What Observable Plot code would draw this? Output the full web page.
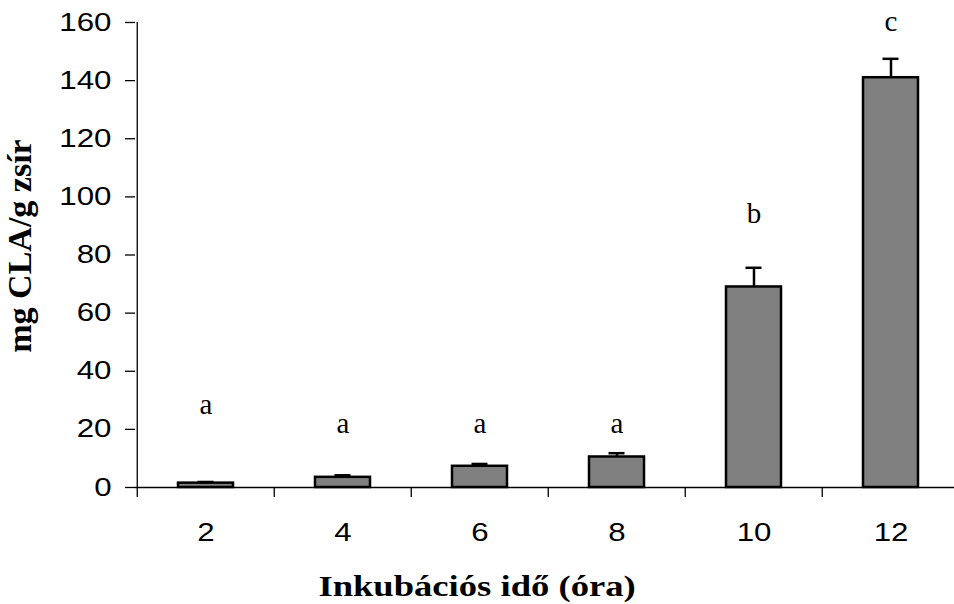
<!DOCTYPE html>
<html><head><meta charset="utf-8">
<script src="https://cdn.jsdelivr.net/npm/d3@7"></script>
<script src="https://cdn.jsdelivr.net/npm/@observablehq/plot@0.6"></script>
<style>
body{margin:0;background:#fff;}
#chart{width:954px;height:604px;position:relative;overflow:hidden;background:#fff;}
#xtitle{position:absolute;left:0;top:564px;width:954px;text-align:center;font-family:"Liberation Serif";font-weight:bold;font-size:30px;line-height:44px;color:#000;}
#xtitle span{display:inline-block;transform:scaleX(1.22);}
</style></head><body>
<div id="chart"><div id="xtitle"><span>Inkubációs idő (óra)</span></div></div>
<script>
const hours = ["2", "4", "6", "8", "10", "12"];
const means = [1.5, 3.5, 7.3, 10.5, 69.0, 141.0];
const errors = [0.4, 0.7, 0.8, 1.3, 6.6, 6.5];
const letters = ["a", "a", "a", "a", "b", "c"];
const letterY = [25.2, 18.8, 18.8, 18.8, 91.0, 157.0];
const yTicks = [0, 20, 40, 60, 80, 100, 120, 140, 160];
const yTitle = "mg CLA/g zsír";

const data = hours.map((h, i) => ({h, v: means[i], e: errors[i], lab: letters[i], ly: letterY[i]}));

const plot = Plot.plot({
  width: 954, height: 560,
  marginTop: 22, marginBottom: 73, marginLeft: 135, marginRight: 0,
  style: {fontFamily: "Liberation Sans", fontSize: "25px", color: "black", background: "white"},
  x: {type: "band", domain: hours, range: [135.5, 960.5], paddingInner: 0.6, paddingOuter: 0.3, align: 0.5},
  y: {domain: [0, 160]},
  marks: [
    Plot.barY(data, {x: "h", y: "v", fill: "#808080", stroke: "black", strokeWidth: 2.5}),
    Plot.ruleX(data, {x: "h", y1: "v", y2: d => d.v + d.e, stroke: "black", strokeWidth: 2.5}),
    Plot.tickY(data, {x: "h", y: d => d.v + d.e, stroke: "black", strokeWidth: 2.5, insetLeft: 19.5, insetRight: 19.5}),
    Plot.text(data, {x: "h", y: "ly", text: "lab", lineAnchor: "bottom", fontFamily: "Liberation Serif", fontSize: 29}),
    Plot.ruleY([0], {stroke: "black", strokeWidth: 1.3}),
    Plot.ruleX([hours[0]], {x: d => d, y1: yTicks[0], y2: yTicks[yTicks.length - 1], dx: -68.75, stroke: "black", strokeWidth: 1.3}),
    Plot.axisY({ticks: yTicks, tickSize: 10, tickPadding: 14, label: null, fontSize: 25, stroke: "black", strokeWidth: 1.3}),
    Plot.axisX({tickSize: 10, dx: -68.75, tickFormat: () => "", label: null, stroke: "black", strokeWidth: 1.3}),
    Plot.axisX({tickSize: 0, tickPadding: 36, label: null, fontSize: 25}),
    Plot.text([yTitle], {text: d => d, frameAnchor: "left", textAnchor: "middle", lineAnchor: "bottom", rotate: -90, dx: -105, dy: -9, fontFamily: "Liberation Serif", fontWeight: "bold", fontSize: 34})
  ]
});

document.getElementById("chart").prepend(plot);

// enlarge + stretch tick labels horizontally like the reference (keeps positions)
d3.select(plot).selectAll('g[aria-label="y-axis tick label"] text, g[aria-label="x-axis tick label"] text').each(function() {
  this.style.fontSize = "25px";
  this.style.fontFamily = "'Liberation Sans'";
  const w = this.getComputedTextLength();
  if (w > 0) {
    this.setAttribute("textLength", (w * 1.25).toFixed(2));
    this.setAttribute("lengthAdjust", "spacingAndGlyphs");
  }
});
</script>
</body></html>
